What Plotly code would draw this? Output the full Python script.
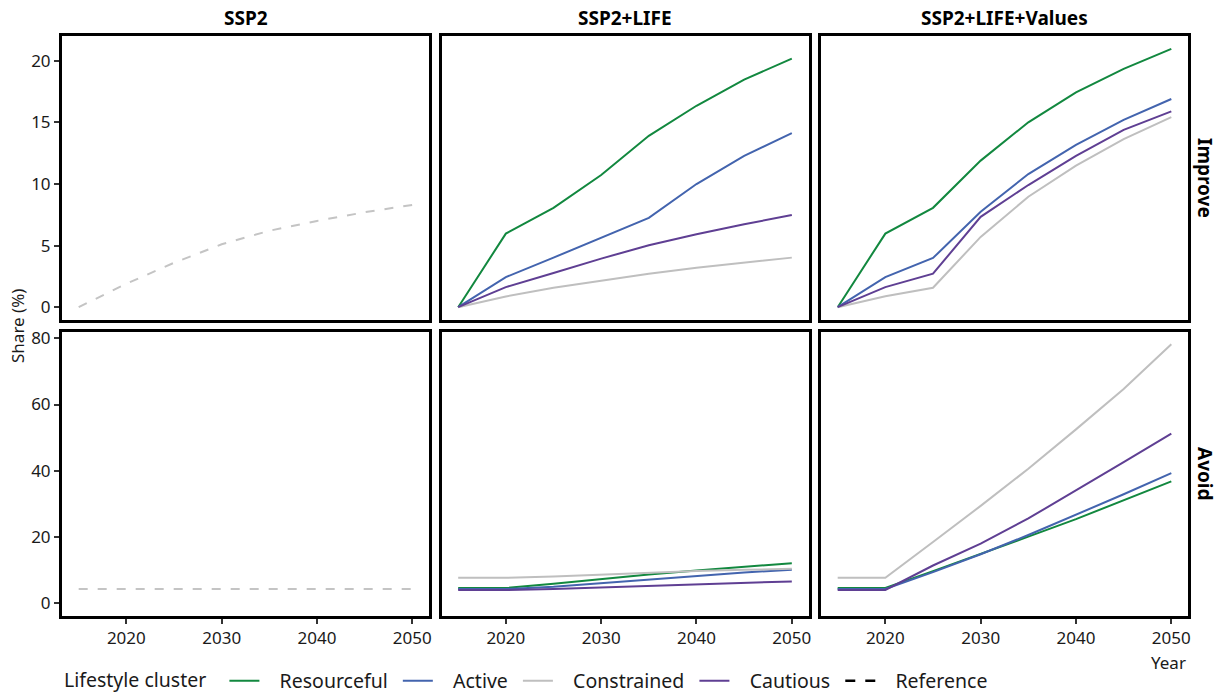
import plotly.graph_objects as go
from plotly.subplots import make_subplots

years = [2015, 2020, 2025, 2030, 2035, 2040, 2045, 2050]
scenarios = ["SSP2", "SSP2+LIFE", "SSP2+LIFE+Values"]
rows_labels = ["Improve", "Avoid"]
clusters = ["Resourceful", "Active", "Constrained", "Cautious"]
colors = {"Resourceful": "#12883f", "Active": "#4364ae", "Constrained": "#bfbfbf", "Cautious": "#5f3f93"}

# SSP2 reference
ref_improve = [0, 1.9, 3.6, 5.1, 6.2, 7.0, 7.7, 8.3]
ref_avoid = [4.3, 4.3, 4.3, 4.3, 4.3, 4.3, 4.3, 4.3]

# Improve, SSP2+LIFE
imp_life_resourceful = [0, 5.97, 8.06, 10.72, 13.9, 16.34, 18.46, 20.17]
imp_life_active = [0, 2.44, 4.02, 5.65, 7.25, 9.99, 12.27, 14.12]
imp_life_constrained = [0, 0.87, 1.58, 2.17, 2.72, 3.2, 3.61, 4.02]
imp_life_cautious = [0, 1.63, 2.77, 3.94, 5.02, 5.92, 6.73, 7.47]

# Improve, SSP2+LIFE+Values
imp_val_resourceful = [0, 5.97, 8.06, 11.89, 15.0, 17.43, 19.33, 20.96]
imp_val_active = [0, 2.44, 3.99, 7.74, 10.8, 13.17, 15.2, 16.89]
imp_val_constrained = [0, 0.89, 1.58, 5.7, 8.96, 11.48, 13.63, 15.42]
imp_val_cautious = [0, 1.63, 2.72, 7.33, 9.91, 12.27, 14.39, 15.88]

# Avoid, SSP2+LIFE
av_life_resourceful = [4.6, 4.6, 5.9, 7.4, 8.7, 9.9, 10.9, 12.1]
av_life_active = [4.3, 4.3, 5.0, 6.1, 7.3, 8.4, 9.3, 10.1]
av_life_constrained = [7.7, 7.7, 8.1, 8.7, 9.2, 9.7, 10.1, 10.4]
av_life_cautious = [4.0, 4.0, 4.3, 4.8, 5.3, 5.8, 6.2, 6.6]

# Avoid, SSP2+LIFE+Values
av_val_resourceful = [4.6, 4.6, 9.7, 14.8, 20.1, 25.4, 31.0, 36.8]
av_val_active = [4.3, 4.3, 9.4, 14.8, 20.6, 26.7, 32.9, 39.3]
av_val_constrained = [7.7, 7.7, 18.5, 29.4, 40.6, 52.5, 64.7, 78.2]
av_val_cautious = [4.0, 4.0, 11.4, 18.0, 25.6, 34.0, 42.6, 51.2]

panel_data = {
    (1, 2): [imp_life_resourceful, imp_life_active, imp_life_constrained, imp_life_cautious],
    (1, 3): [imp_val_resourceful, imp_val_active, imp_val_constrained, imp_val_cautious],
    (2, 2): [av_life_resourceful, av_life_active, av_life_constrained, av_life_cautious],
    (2, 3): [av_val_resourceful, av_val_active, av_val_constrained, av_val_cautious],
}

W, H = 1220, 697
ML, MR, MT, MB = 62, 32, 36, 81
PW = W - ML - MR
PH = H - MT - MB

fig = make_subplots(rows=2, cols=3, shared_xaxes=True, shared_yaxes=True,
                    horizontal_spacing=12.5 / PW, vertical_spacing=12 / PH)

FONT = "Noto Sans"
NB = "\u00a0"

# reference lines
fig.add_trace(go.Scatter(x=years, y=ref_improve, mode="lines", showlegend=False,
                         line=dict(color="#c4c4c4", width=2, dash="9px,10px")), row=1, col=1)
fig.add_trace(go.Scatter(x=years, y=ref_avoid, mode="lines", showlegend=False,
                         line=dict(color="#c4c4c4", width=2, dash="9px,10px")), row=2, col=1)

shown = set()
for (r, c), series in panel_data.items():
    for name, vals in zip(clusters, series):
        fig.add_trace(go.Scatter(x=years, y=vals, mode="lines", name=NB * 3 + name + NB,
                                 legendgroup=name, showlegend=name not in shown,
                                 line=dict(color=colors[name], width=2)), row=r, col=c)
        shown.add(name)

# legend-only entry for Reference (black dashes)
fig.add_trace(go.Scatter(x=[None], y=[None], mode="lines", name=NB * 3 + "Reference",
                         line=dict(color="black", width=2.5, dash="10px,10px")), row=1, col=1)

for r in (1, 2):
    for c in (1, 2, 3):
        fig.update_xaxes(row=r, col=c, range=[2013.25, 2051.75],
                         tickvals=[2020, 2030, 2040, 2050],
                         showline=True, mirror=True, linecolor="black", linewidth=3,
                         showgrid=False, zeroline=False,
                         ticks="outside" if r == 2 else "", ticklen=5, tickwidth=1.5,
                         tickcolor="#333333", showticklabels=(r == 2),
                         tickfont=dict(family=FONT, size=17, color="#1a1a1a"))
        fig.update_yaxes(row=r, col=c,
                         range=[-1.04, 22.0] if r == 1 else [-3.85, 81.9],
                         tickvals=[0, 5, 10, 15, 20] if r == 1 else [0, 20, 40, 60, 80],
                         showline=True, mirror=True, linecolor="black", linewidth=3,
                         showgrid=False, zeroline=False,
                         ticks="outside" if c == 1 else "", ticklen=5, tickwidth=1.5,
                         tickcolor="#333333", showticklabels=(c == 1),
                         tickfont=dict(family=FONT, size=17, color="#1a1a1a"))

annotations = []
col_w = (1 - 2 * 12.5 / PW) / 3
for i, s in enumerate(scenarios):
    xc = i * (col_w + 12.5 / PW) + col_w / 2
    annotations.append(dict(text="<b>%s</b>" % s, x=xc, y=1 + 18 / PH, xref="paper", yref="paper",
                            xanchor="center", yanchor="middle", showarrow=False,
                            font=dict(family=FONT, size=19, color="black")))
row_h = (1 - 12 / PH) / 2
for i, lab in enumerate(rows_labels):
    yc = 1 - row_h / 2 if i == 0 else row_h / 2
    annotations.append(dict(text="<b>%s</b>" % lab, x=1 + 17 / PW, y=yc, xref="paper", yref="paper",
                            xanchor="center", yanchor="middle", showarrow=False, textangle=90,
                            font=dict(family=FONT, size=19, color="black")))
annotations.append(dict(text="Year", x=1, y=-(662 - (H - MB)) / PH, xref="paper", yref="paper",
                        xanchor="right", yanchor="middle", showarrow=False,
                        font=dict(family=FONT, size=17, color="#1a1a1a")))
annotations.append(dict(text="Share (%)", x=-(ML - 17) / PW, y=0.5, xref="paper", yref="paper",
                        xanchor="center", yanchor="middle", showarrow=False, textangle=-90,
                        font=dict(family=FONT, size=17, color="#1a1a1a")))

fig.update_layout(
    width=W, height=H,
    margin=dict(l=ML, r=MR, t=MT, b=MB, autoexpand=False),
    paper_bgcolor="white", plot_bgcolor="white",
    annotations=annotations,
    legend=dict(orientation="h", x=0, xanchor="left", y=-(681 - (H - MB)) / PH, yanchor="middle",
                title=dict(text="Lifestyle cluster" + NB * 2, side="left",
                           font=dict(family=FONT, size=19.5, color="#1a1a1a")),
                font=dict(family=FONT, size=19.5, color="#1a1a1a"),
                itemwidth=30, traceorder="normal"),
    font=dict(family=FONT),
)

fig.write_html("out.html")
